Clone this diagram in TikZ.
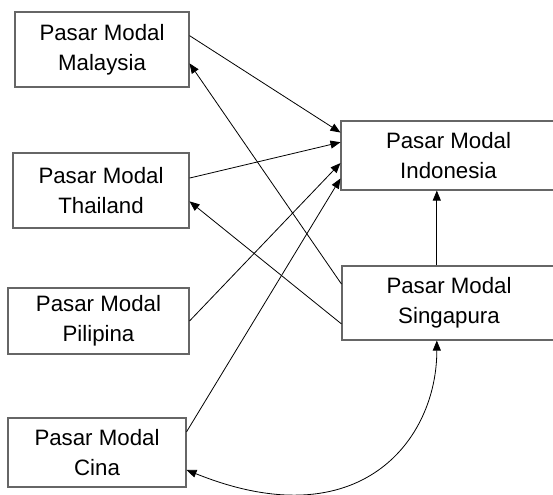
\documentclass[tikz,border=0pt]{standalone}
\usepackage{fontspec}
\setmainfont{Liberation Sans}
\usetikzlibrary{arrows.meta}

\begin{document}
\begin{tikzpicture}[
        x=0.75pt, y=-0.75pt,
        >={Triangle[length=7.5pt, width=6pt]},
        market/.style={rectangle, draw=black!60, line width=0.8pt, align=center,
            inner sep=0pt, font=\fontsize{16.7}{22.5}\selectfont},
        link/.style={->, line width=0.6pt}
        ]
        \useasboundingbox (0,0) rectangle (553,494);

        % Left markets
        \node[market, minimum width=130.5pt, minimum height=56.25pt] (M) at (102,49.5) {Pasar Modal\\Malaysia};
        \node[market, minimum width=132pt, minimum height=56.25pt] (T) at (101,190.5) {Pasar Modal\\Thailand};
        \node[market, minimum width=135.75pt, minimum height=49.5pt] (P) at (98.5,321) {Pasar Modal\\Pilipina};
        \node[market, minimum width=133.5pt, minimum height=51.75pt] (C) at (97,452.5) {Pasar Modal\\Cina};

        % Right markets
        \node[market, minimum width=161.25pt, minimum height=51.75pt] (I) at (448.5,155.5) {Pasar Modal\\Indonesia};
        \node[market, minimum width=160.5pt, minimum height=55.5pt] (S) at (449,303) {Pasar Modal\\Singapura};

        % Links into Indonesia
        \draw[link] (M.9) -- (I.168);
        \draw[link] (T.8) -- (I.173);
        \draw[link] (P.east) -- (I.184);
        \draw[link] (C.13) -- (I.192);
        \draw[link] (S.108) -- (S.108 |- I.south);

        % Links out of Singapura
        \draw[link] (S.170) -- (M.-9);
        \draw[link] (S.191) -- (T.-7);
        \draw[link, <->] (C.-11) .. controls (360,540) and (437,440) .. (S.-108);

    \end{tikzpicture}
\end{document}
